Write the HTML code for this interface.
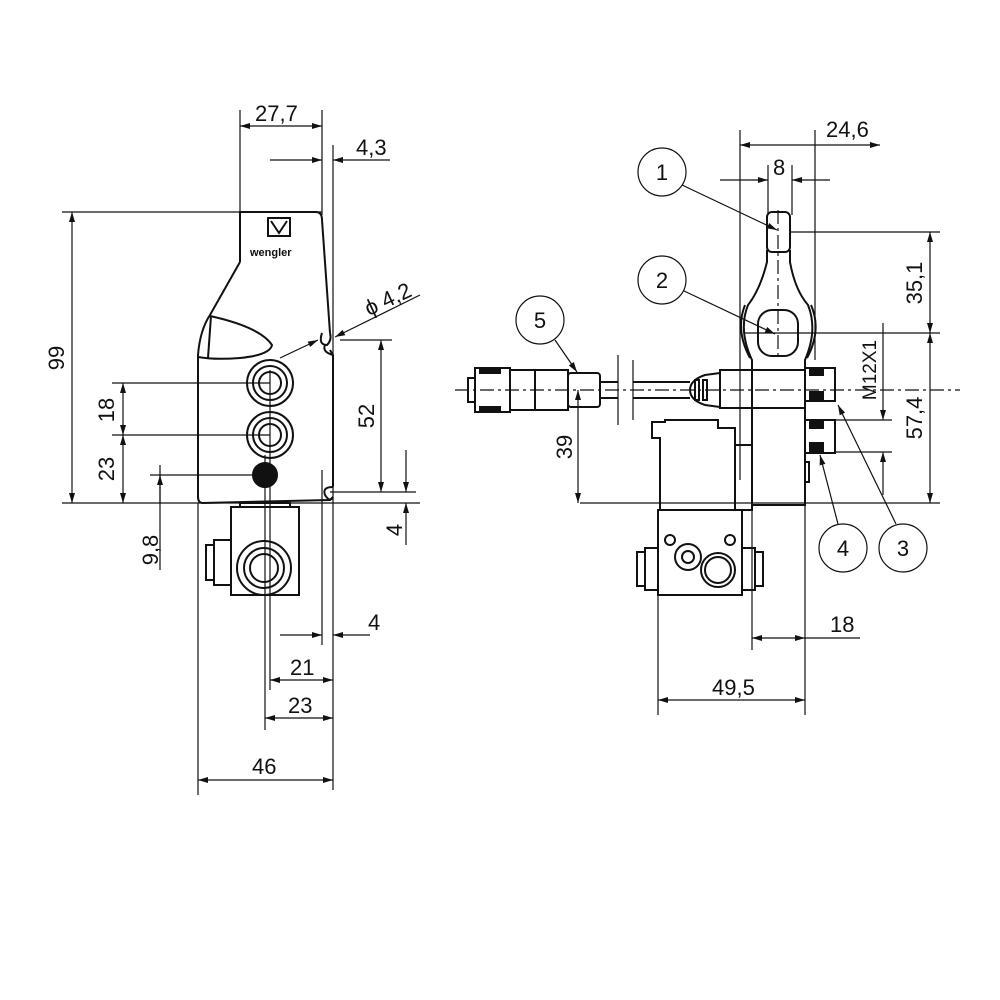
<!DOCTYPE html>
<html><head><meta charset="utf-8"><style>
html,body{margin:0;padding:0;background:#fff}
svg{display:block}
text{font-family:"Liberation Sans",sans-serif;font-size:22px;fill:#111}
</style></head><body>
<svg width="1000" height="1000" viewBox="0 0 1000 1000" xmlns="http://www.w3.org/2000/svg">
<defs>
<marker id="a" viewBox="0 0 10 6" refX="10" refY="3" markerWidth="14" markerHeight="6" markerUnits="userSpaceOnUse" orient="auto-start-reverse"><path d="M0,0L10,3L0,6z" fill="#111"/></marker>
</defs>
<g stroke="#111" fill="none" stroke-width="1.2">
<line x1="240" y1="110" x2="240" y2="215"/>
<line x1="322" y1="110" x2="322" y2="215"/>
<line x1="333" y1="145" x2="333" y2="790"/>
<line x1="62" y1="212" x2="322" y2="212"/>
<line x1="62" y1="503" x2="420" y2="503"/>
<line x1="112" y1="383" x2="270" y2="383"/>
<line x1="112" y1="435" x2="270" y2="435"/>
<line x1="150" y1="475" x2="270" y2="475"/>
<line x1="198" y1="503" x2="198" y2="795"/>
<line x1="270" y1="370" x2="270" y2="690"/>
<line x1="265" y1="455" x2="265" y2="730"/>
<line x1="322" y1="470" x2="322" y2="645"/>
<line x1="160" y1="465" x2="160" y2="570"/>
<line x1="340" y1="340" x2="392" y2="340"/>
<line x1="330" y1="492" x2="416" y2="492"/>
<line x1="240" y1="126" x2="322" y2="126" marker-start="url(#a)" marker-end="url(#a)"/>
<line x1="270" y1="160" x2="322" y2="160" marker-end="url(#a)"/>
<line x1="333" y1="160" x2="390" y2="160" marker-start="url(#a)"/>
<line x1="72" y1="212" x2="72" y2="503" marker-start="url(#a)" marker-end="url(#a)"/>
<line x1="123" y1="383" x2="123" y2="435" marker-start="url(#a)" marker-end="url(#a)"/>
<line x1="123" y1="435" x2="123" y2="503" marker-start="url(#a)" marker-end="url(#a)"/>
<line x1="160" y1="503" x2="160" y2="475" marker-end="url(#a)"/>
<line x1="381" y1="340" x2="381" y2="492" marker-start="url(#a)" marker-end="url(#a)"/>
<line x1="406" y1="450" x2="406" y2="492" marker-end="url(#a)"/>
<line x1="406" y1="545" x2="406" y2="503" marker-end="url(#a)"/>
<line x1="280" y1="635" x2="322" y2="635" marker-end="url(#a)"/>
<line x1="333" y1="635" x2="370" y2="635" marker-start="url(#a)"/>
<line x1="270" y1="680" x2="333" y2="680" marker-start="url(#a)" marker-end="url(#a)"/>
<line x1="265" y1="718" x2="333" y2="718" marker-start="url(#a)" marker-end="url(#a)"/>
<line x1="198" y1="780" x2="333" y2="780" marker-start="url(#a)" marker-end="url(#a)"/>
<line x1="420" y1="295" x2="335" y2="337" marker-end="url(#a)"/>
<line x1="280" y1="358" x2="318" y2="340" marker-end="url(#a)"/>
</g>
<g stroke="#111" fill="none" stroke-width="2">
<path d="M240,262 L240,212 L316,212 Q322,212 322,220 L330,333"/>
<path d="M330,350 L333,355 L333,487"/>
<path d="M333,497 L330,500 L203,503 Q198,503 198,497 L198,355 Q200,330 210,315 L240,262"/>
<path d="M322,333 Q318,345 327,345 Q332,340 330,333 M325,345 Q322,352 333,355"/>
<path d="M333,487 Q322,487 325,495 Q330,503 333,497"/>
<path d="M198,357 Q215,360 240,358 Q270,355 272,345 Q260,327 210,316" />
<line x1="211" y1="316" x2="208" y2="358"/>
<circle cx="270" cy="383" r="23"/><circle cx="270" cy="383" r="17"/><circle cx="270" cy="383" r="11"/>
<circle cx="270" cy="435" r="23"/><circle cx="270" cy="435" r="17"/><circle cx="270" cy="435" r="11"/>
<circle cx="265" cy="475" r="12" fill="#111"/>
<rect x="231" y="507" width="68" height="88"/>
<circle cx="264" cy="568" r="27"/><circle cx="264" cy="568" r="20"/><circle cx="264" cy="568" r="14"/>
<rect x="214" y="540" width="17" height="45"/><rect x="206" y="545" width="8" height="35"/>
<rect x="240" y="503" width="50" height="4"/>
</g>
<rect x="268" y="218" width="22" height="18" fill="none" stroke="#111" stroke-width="2"/>
<path d="M271,221 L279,233 L287,221" stroke="#111" stroke-width="2" fill="none"/>
<text x="250" y="256" style="font-size:11px;font-weight:bold">wengler</text>

<g stroke="#111" fill="none" stroke-width="1.2">
<line x1="740" y1="130" x2="740" y2="480"/>
<line x1="815" y1="130" x2="815" y2="360"/>
<line x1="740" y1="145" x2="880" y2="145" marker-start="url(#a)" marker-end="url(#a)"/>
<line x1="720" y1="180" x2="768" y2="180" marker-end="url(#a)"/>
<line x1="792" y1="180" x2="830" y2="180" marker-start="url(#a)"/>
<line x1="768" y1="165" x2="768" y2="215"/><line x1="792" y1="165" x2="792" y2="215"/>
<line x1="745" y1="333" x2="940" y2="333"/>
<line x1="790" y1="232" x2="940" y2="232"/>
<line x1="930" y1="232" x2="930" y2="333" marker-start="url(#a)" marker-end="url(#a)"/>
<line x1="930" y1="333" x2="930" y2="503" marker-start="url(#a)" marker-end="url(#a)"/>
<line x1="580" y1="503" x2="940" y2="503"/>
<line x1="835" y1="420" x2="892" y2="420"/><line x1="835" y1="452" x2="892" y2="452"/>
<line x1="883" y1="323" x2="883" y2="420" marker-end="url(#a)"/>
<line x1="883" y1="495" x2="883" y2="452" marker-end="url(#a)"/>
<line x1="578" y1="390" x2="578" y2="503" marker-start="url(#a)" marker-end="url(#a)"/>
<line x1="455" y1="390" x2="960" y2="390" stroke-dasharray="14,4,3,4"/>
<line x1="778" y1="210" x2="778" y2="360" stroke-dasharray="14,4,3,4"/>
<line x1="752" y1="480" x2="752" y2="650"/><line x1="805" y1="503" x2="805" y2="715"/>
<line x1="658" y1="595" x2="658" y2="715"/>
<line x1="752" y1="638" x2="805" y2="638" marker-start="url(#a)" marker-end="url(#a)"/>
<line x1="805" y1="638" x2="860" y2="638"/>
<line x1="658" y1="700" x2="805" y2="700" marker-start="url(#a)" marker-end="url(#a)"/>
<line x1="618" y1="355" x2="618" y2="425"/><line x1="633" y1="360" x2="633" y2="420"/>
<line x1="682" y1="185" x2="777" y2="230" marker-end="url(#a)"/>
<line x1="682" y1="290" x2="775" y2="334" marker-end="url(#a)"/>
<line x1="555" y1="340" x2="577" y2="372" marker-end="url(#a)"/>
<line x1="838" y1="524" x2="820" y2="455" marker-end="url(#a)"/>
<line x1="896" y1="524" x2="838" y2="405" marker-end="url(#a)"/>
</g>
<g stroke="#111" stroke-width="1.2" fill="#fff">
<circle cx="662" cy="172" r="24"/><circle cx="662" cy="280" r="24"/><circle cx="540" cy="320" r="24"/>
<circle cx="843" cy="548" r="24"/><circle cx="903" cy="548" r="24"/>
</g>
<g stroke="#111" fill="none" stroke-width="2">
<rect x="767" y="212" width="23" height="40" rx="5"/>
<path d="M767,250 L767,262 Q760,290 748,305 Q738,330 752,360 L752,370 M790,250 L790,262 Q795,290 808,305 Q818,330 805,360 L805,370"/>
<path d="M745,305 Q735,330 750,358 M811,305 Q822,330 807,358"/>
<rect x="758" y="310" width="40" height="46" rx="14"/>
<rect x="752" y="370" width="53" height="135"/>
<line x1="752" y1="408" x2="805" y2="408"/>
<rect x="805" y="368" width="30" height="33"/><rect x="805" y="420" width="30" height="33"/>
<rect x="810" y="370" width="13" height="5" fill="#111"/><rect x="810" y="392" width="13" height="8" fill="#111"/>
<rect x="810" y="422" width="13" height="6" fill="#111"/><rect x="810" y="443" width="13" height="8" fill="#111"/>
<rect x="805" y="462" width="4" height="20"/>
<rect x="720" y="370" width="32" height="38"/>
<path d="M720,373 L705,375 Q690,380 690,390 Q690,400 705,405 L720,407"/>
<rect x="695" y="380" width="4" height="20"/><rect x="703" y="380" width="4" height="20"/>
<line x1="633" y1="382" x2="690" y2="382"/><line x1="633" y1="398" x2="690" y2="398"/>
<line x1="600" y1="382" x2="618" y2="382"/><line x1="600" y1="398" x2="618" y2="398"/>
<rect x="568" y="373" width="32" height="34" rx="3"/>
<rect x="535" y="370" width="33" height="40"/>
<rect x="510" y="370" width="25" height="40"/>
<rect x="475" y="368" width="35" height="44"/>
<rect x="468" y="378" width="7" height="24"/>
<rect x="480" y="368" width="20" height="5" fill="#111"/><rect x="480" y="407" width="20" height="5" fill="#111"/>
<path d="M652,422 L652,438 L660,438 L660,510 L735,510 L735,428 L718,428 L718,420 L665,420 L665,422 Z"/>
<rect x="735" y="445" width="17" height="65"/>
<rect x="658" y="510" width="84" height="85"/>
<rect x="645" y="548" width="13" height="42"/><rect x="637" y="552" width="8" height="34"/>
<rect x="742" y="548" width="13" height="42"/><rect x="755" y="552" width="8" height="34"/>
<circle cx="670" cy="540" r="5"/><circle cx="730" cy="540" r="5"/>
<circle cx="688" cy="557" r="13"/><circle cx="688" cy="557" r="6"/>
<circle cx="718" cy="570" r="17"/><circle cx="718" cy="570" r="13"/>
</g>

<text x="255" y="121">27,7</text>
<text x="356" y="155">4,3</text>
<text x="363" y="310" transform="rotate(-25 380 300)">ϕ 4,2</text>
<text x="64" y="358" transform="rotate(-90 64 358)" text-anchor="middle">99</text>
<text x="114" y="410" transform="rotate(-90 114 410)" text-anchor="middle">18</text>
<text x="114" y="469" transform="rotate(-90 114 469)" text-anchor="middle">23</text>
<text x="158" y="550" transform="rotate(-90 158 550)" text-anchor="middle">9,8</text>
<text x="374" y="416" transform="rotate(-90 374 416)" text-anchor="middle">52</text>
<text x="402" y="530" transform="rotate(-90 402 530)" text-anchor="middle">4</text>
<text x="368" y="630">4</text>
<text x="290" y="675">21</text>
<text x="288" y="713">23</text>
<text x="252" y="774">46</text>
<text x="826" y="137">24,6</text>
<text x="773" y="175">8</text>
<text x="922" y="283" transform="rotate(-90 922 283)" text-anchor="middle">35,1</text>
<text x="922" y="418" transform="rotate(-90 922 418)" text-anchor="middle">57,4</text>
<text x="876" y="370" transform="rotate(-90 876 370)" text-anchor="middle" style="font-size:19px">M12X1</text>
<text x="572" y="447" transform="rotate(-90 572 447)" text-anchor="middle">39</text>
<text x="830" y="632">18</text>
<text x="712" y="695">49,5</text>
<text x="662" y="180" text-anchor="middle">1</text>
<text x="662" y="288" text-anchor="middle">2</text>
<text x="540" y="328" text-anchor="middle">5</text>
<text x="843" y="556" text-anchor="middle">4</text>
<text x="903" y="556" text-anchor="middle">3</text>
</svg>
</body></html>
